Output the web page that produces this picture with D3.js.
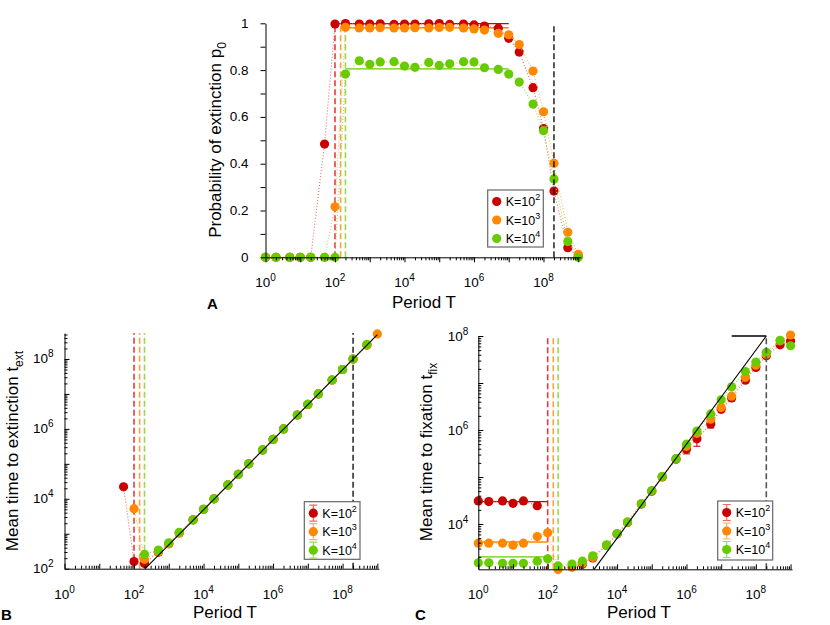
<!DOCTYPE html>
<html>
<head>
<meta charset="utf-8">
<script src="https://cdn.jsdelivr.net/npm/d3@7"></script>
<style>
	body { margin: 0; background: #fff; }
	svg { font-family: 'Liberation Sans', Arial, sans-serif; }
</style>
</head>
<body>
<svg id="chart" width="830" height="625"></svg>
<script>
	'use strict';

	// period T, shared by all three panels
	var periods = [1, 2, 5, 10, 20, 50, 100, 200, 500, 1e3, 2e3, 5e3, 1e4, 2e4, 5e4, 1e5, 2e5, 5e5,
		1e6, 2e6, 5e6, 1e7, 2e7, 5e7, 1e8, 2e8, 5e8, 1e9];
	var kExponents = ['2', '3', '4'];

	// A: probability of extinction p0
	var pRed = [0, 0, 0, 0, 0, 0.484, 0.997, 0.999, 0.997, 0.997, 0.998, 0.995, 0.997, 0.997, 0.998, 0.999,
		0.995, 0.997, 0.993, 0.988, 0.979, 0.936, 0.877, 0.725, 0.55, 0.283, 0.041, 0.004];
	var pOrange = [0, 0, 0, 0, 0, 0, 0.216, 0.983, 0.98, 0.98, 0.981, 0.98, 0.98, 0.981, 0.98, 0.982,
		0.983, 0.98, 0.976, 0.971, 0.957, 0.951, 0.909, 0.796, 0.622, 0.402, 0.107, 0.013];
	var pGreen = [0, 0, 0, 0, 0, 0, 0, 0.783, 0.84, 0.825, 0.835, 0.836, 0.817, 0.812, 0.833, 0.82,
		0.827, 0.836, 0.835, 0.81, 0.803, 0.783, 0.749, 0.655, 0.541, 0.335, 0.067, 0];
	var pPlateau = [0.999, 0.981, 0.805];
	var plateauEndA = 1e7;

	// critical periods (coloured dashed lines) and the black dashed one
	var critPeriods = [100, 145, 200];
	var bigPeriod = 2e8;

	// B: mean time to extinction
	var extRed = [null, null, null, null, null, 2.2e4, 160, 142, 294, 520, 1050, 2500, 5000, 1e4, 2.5e4,
		5e4, 1e5, 2.5e5, 5e5, 1e6, 2.5e6, 5e6, 1e7, 2.5e7, 5e7, 1e8, 2.5e8, null];
	var extOrange = [null, null, null, null, null, null, 5200, 185, 300, 520, 1050, 2500, 5000, 1e4, 2.5e4,
		5e4, 1e5, 2.5e5, 5e5, 1e6, 2.5e6, 5e6, 1e7, 2.5e7, 5e7, 1e8, 2.5e8, 5.2e8];
	var extGreen = [null, null, null, null, null, null, null, 258, 340, 550, 1100, 2460, 5000, 1e4, 2.5e4,
		5e4, 1e5, 2.5e5, 5e5, 1e6, 2.5e6, 5e6, 1e7, 2.5e7, 5e7, 1e8, 2.6e8, null];
	var extTheoryT = [209, 1e9];
	var extTheory = [100, 5e8];

	// C: mean time to fixation
	var fixRed = [3.1e4, 3.0e4, 3.1e4, 2.75e4, 3.1e4, 2.45e4, null, null, null, 1.4e3, 1.9e3, 3.5e3, 6.1e3,
		1.08e4, 2.65e4, 5.0e4, 1.0e5, 2.4e5, 3.9e5, 6.5e5, 1.35e6, 2.75e6, 4.8e6, 1.15e7, 2.14e7, 3.8e7, 6.5e7, 7.8e7];
	var fixOrange = [3.9e3, 3.9e3, 3.9e3, 3.55e3, 3.9e3, 5.4e3, 6.5e3, 1.07e3, 1.2e3, 1.44e3, 1.95e3, 3.5e3, 6.2e3,
		1.1e4, 2.7e4, 5.1e4, 1.02e5, 2.45e5, 4.5e5, 8.5e5, 1.7e6, 3.0e6, 5.25e6, 1.32e7, 2.4e7, 4.1e7, 7.9e7, 1.05e8];
	var fixGreen = [1.5e3, 1.5e3, 1.46e3, 1.46e3, 1.46e3, 1.62e3, 1.82e3, 1.28e3, 1.41e3, 1.62e3, 2.1e3, 3.6e3, 6.2e3,
		1.1e4, 2.7e4, 5.1e4, 1.02e5, 2.45e5, 5.0e5, 9.5e5, 2.2e6, 4.4e6, 8.3e6, 1.74e7, 2.8e7, 4.5e7, 8.1e7, 6.2e7];
	var fixRedErr = [0, 0, 0, 0, 0, 0, 0, 0, 0, 0, 0, 0, 0, 0, 0, 0, 0, 1.5e4, 8e4, 2e5, 2.5e5, 3e5, 5e5,
		1e6, 1.5e6, 2e6, 3e6, 3e6];
	var fixPlateau = [2.99e4, 4.14e3, 2.0e3];
	var fixTheoryT = [2.17e3, 2e8];
	var fixTheory = [1.087e3, 1e8];
	var fixCapT = [2e7, 2e8];
	var fixCap = [1e8, 1e8];

	var colors = ['#cc0000', '#ff8800', '#66cc00'];
	var dotColors = ['#ec6a6a', '#ffb060', '#9ed85a'];
	var dashColors = ['#e63c3c', '#ffa040', '#9ad84a'];

	var svg = d3.select('#chart');

	function isDecade(v) {
		var l = Math.log10(v);
		return Math.abs(l - Math.round(l)) < 1e-9;
	}

	function logTicks(domain) {
		var out = [];
		var lo = Math.floor(Math.log10(domain[0])), hi = Math.ceil(Math.log10(domain[1]));
		for (var k = lo; k <= hi; k++) {
			for (var m = 1; m < 10; m++) {
				var v = m * Math.pow(10, k);
				if (v >= domain[0] * 0.999 && v <= domain[1] * 1.001) {
					out.push(v);
				}
			}
		}
		return out;
	}

	function supText(t, base, sup, supSize) {
		t.append('tspan').text(base);
		t.append('tspan').attr('dy', -6).attr('font-size', supSize).text(sup);
	}

	function tenLabel(g, x, y, d, anchor) {
		var t = g.append('text')
			.attr('x', x).attr('y', y)
			.attr('text-anchor', anchor)
			.attr('font-size', 13.5)
			.attr('font-family', "'Liberation Sans', Arial, sans-serif")
			.attr('fill', '#000');
		supText(t, '10', String(Math.round(Math.log10(d))), 10);
	}

	function evenDecade(d) {
		return isDecade(d) && Math.round(Math.log10(d)) % 2 === 0;
	}

	function drawXAxis(x, y0, inward) {
		var ticks = logTicks(x.domain());
		var g = svg.append('g')
			.attr('transform', 'translate(0,' + y0 + ')')
			.call(d3.axisBottom(x).tickValues(ticks).tickSizeOuter(0).tickFormat(''));
		g.selectAll('.tick line').attr('y2', function (d) {
			var len = isDecade(d) ? 5 : 3;
			return inward ? -len : len;
		});
		ticks.filter(evenDecade).forEach(function (d) {
			tenLabel(g, x(d), 30, d, 'middle');
		});
	}

	function drawYLogAxis(y, x0, gap) {
		var ticks = logTicks(y.domain());
		var g = svg.append('g')
			.attr('transform', 'translate(' + x0 + ',0)')
			.call(d3.axisLeft(y).tickValues(ticks).tickSizeOuter(0).tickFormat(''));
		g.selectAll('.tick line').attr('x2', function (d) {
			return isDecade(d) ? 5 : 3;
		});
		ticks.filter(evenDecade).forEach(function (d) {
			tenLabel(g, -gap, y(d) + 4.5, d, 'end');
		});
	}

	function axisTitle(x, y, rotate, base, sub) {
		var t = svg.append('text')
			.attr('transform', 'translate(' + x + ',' + y + ')' + (rotate ? ' rotate(-90)' : ''))
			.attr('text-anchor', 'middle')
			.attr('font-size', 17);
		t.append('tspan').text(base);
		if (sub) {
			t.append('tspan').attr('dy', 5).attr('font-size', 12).text(sub);
		}
	}

	function panelLetter(x, y, s) {
		svg.append('text').attr('x', x).attr('y', y)
			.attr('font-size', 15).attr('font-weight', 'bold').text(s);
	}

	function vline(x, y, t, color, dash, width) {
		var d = y.domain();
		svg.append('line')
			.attr('x1', x(t)).attr('x2', x(t))
			.attr('y1', y(d[0])).attr('y2', y(d[1]))
			.attr('stroke', color)
			.attr('stroke-width', width)
			.attr('stroke-dasharray', dash);
	}

	function segment(x, y, ts, vs, color, width) {
		var line = d3.line()
			.x(function (d, i) { return x(ts[i]); })
			.y(function (d) { return y(d); });
		svg.append('path')
			.datum(vs)
			.attr('d', line)
			.attr('fill', 'none')
			.attr('stroke', color)
			.attr('stroke-width', width);
	}

	function drawSeries(x, y, values, i, errs) {
		var pts = periods.map(function (t, j) {
			return {t: t, v: values[j], e: errs ? errs[j] : 0};
		});
		var line = d3.line()
			.defined(function (d) { return d.v !== null; })
			.x(function (d) { return x(d.t); })
			.y(function (d) { return y(d.v); });
		svg.append('path')
			.datum(pts)
			.attr('d', line)
			.attr('fill', 'none')
			.attr('stroke', dotColors[i])
			.attr('stroke-width', 1.1)
			.attr('stroke-dasharray', '1,2');
		var ok = pts.filter(function (d) { return d.v !== null; });
		var bars = ok.filter(function (d) { return d.e > 0; });
		bars.forEach(function (d) {
			var cx = x(d.t), y1 = y(d.v - d.e), y2 = y(d.v + d.e);
			svg.append('path')
				.attr('d', 'M' + cx + ',' + y1 + 'V' + y2 + 'M' + (cx - 3.5) + ',' + y1 + 'H' + (cx + 3.5) +
					'M' + (cx - 3.5) + ',' + y2 + 'H' + (cx + 3.5))
				.attr('stroke', colors[i]).attr('stroke-width', 1).attr('fill', 'none');
		});
		svg.append('g').selectAll('circle')
			.data(ok)
			.enter().append('circle')
			.attr('cx', function (d) { return x(d.t); })
			.attr('cy', function (d) { return y(d.v); })
			.attr('r', 4.6)
			.attr('fill', colors[i]);
	}

	function drawLegend(x0, y0, w, h, withErr) {
		var g = svg.append('g').attr('transform', 'translate(' + x0 + ',' + y0 + ')');
		g.append('rect')
			.attr('width', w).attr('height', h)
			.attr('fill', '#fff').attr('stroke', '#666').attr('stroke-width', 1.2);
		kExponents.forEach(function (k, i) {
			var cy = 11.5 + i * 18.5;
			if (withErr) {
				g.append('path')
					.attr('d', 'M9,' + (cy - 8) + 'V' + (cy + 8) + 'M5,' + (cy - 8) + 'H13M5,' + (cy + 8) + 'H13')
					.attr('stroke', dotColors[i]).attr('stroke-width', 1.2).attr('fill', 'none');
			}
			g.append('circle').attr('cx', 9).attr('cy', cy).attr('r', 4.6).attr('fill', colors[i]);
			var t = g.append('text').attr('x', 18).attr('y', cy + 4.5).attr('font-size', 12.5);
			supText(t, 'K=10', k, 9);
		});
	}

	var pSeries = [pRed, pOrange, pGreen];
	var extSeries = [extRed, extOrange, extGreen];
	var fixSeries = [fixRed, fixOrange, fixGreen];
	var fixErrs = [fixRedErr, null, null];

	// ---------- A ----------
	var xA = d3.scaleLog().domain([1, 1.2e9]).range([265.5, 581]);
	var yA = d3.scaleLinear().domain([0, 1]).range([257.3, 23.3]);

	critPeriods.forEach(function (t, i) {
		vline(xA, yA, t, dashColors[i], '6,3', 1.6);
		segment(xA, yA, [t, plateauEndA], [pPlateau[i], pPlateau[i]], colors[i], 1.3);
	});
	pSeries.forEach(function (s, i) { drawSeries(xA, yA, s, i); });
	vline(xA, yA, bigPeriod, '#000', '6,3', 1.3);

	drawXAxis(xA, 257.3, false);
	(function () {
		var ticks = d3.range(0, 11).map(function (d) { return d / 10; });
		var g = svg.append('g')
			.attr('transform', 'translate(265.5,0)')
			.call(d3.axisLeft(yA).tickValues(ticks).tickSizeOuter(0).tickSizeInner(5).tickFormat(''));
		ticks.filter(function (d, i) { return i % 2 === 0; }).forEach(function (d) {
			g.append('text')
				.attr('x', -17).attr('y', yA(d) + 4.5)
				.attr('text-anchor', 'end')
				.attr('font-size', 13.5)
				.attr('font-family', "'Liberation Sans', Arial, sans-serif")
				.attr('fill', '#000')
				.text(String(+d.toFixed(1)));
		});
	})();
	drawLegend(487.7, 190, 55.6, 57, false);
	axisTitle(220.5, 140, true, 'Probability of extinction p', '0');
	axisTitle(424, 308, false, 'Period T');
	panelLetter(207, 309, 'A');

	// ---------- B ----------
	var xB = d3.scaleLog().domain([1, 1.1e9]).range([64.5, 378.8]);
	var yB = d3.scaleLog().domain([100, 5.5e8]).range([568.7, 333.1]);

	critPeriods.forEach(function (t, i) {
		vline(xB, yB, t, dashColors[i], '6,3', 1.6);
	});
	extSeries.forEach(function (s, i) { drawSeries(xB, yB, s, i); });
	segment(xB, yB, extTheoryT, extTheory, '#000', 1.1);
	vline(xB, yB, bigPeriod, '#000', '6,3', 1.3);

	drawXAxis(xB, 568.7, true);
	drawYLogAxis(yB, 64.5, 11);
	drawLegend(304.3, 501.7, 55.7, 57.6, true);
	axisTitle(18, 451, true, 'Mean time to extinction t', 'ext');
	axisTitle(225, 618, false, 'Period T');
	panelLetter(1, 620, 'B');

	// ---------- C ----------
	var xC = d3.scaleLog().domain([1, 1.1e9]).range([478.3, 792]);
	var yC = d3.scaleLog().domain([1.087e3, 1e8]).range([569.3, 336]);

	critPeriods.forEach(function (t, i) {
		vline(xC, yC, t, dashColors[i], '6,3', 1.6);
		segment(xC, yC, [1, critPeriods[0]], [fixPlateau[i], fixPlateau[i]], colors[i], 1.3);
	});
	fixSeries.forEach(function (s, i) { drawSeries(xC, yC, s, i, fixErrs[i]); });
	segment(xC, yC, fixTheoryT, fixTheory, '#000', 1.1);
	segment(xC, yC, fixCapT, fixCap, '#000', 1.3);
	vline(xC, yC, bigPeriod, '#555', '6,3', 1.6);

	drawXAxis(xC, 569.3, true);
	drawYLogAxis(yC, 478.3, 10);
	drawLegend(717.7, 501, 55, 59, true);
	axisTitle(432, 452, true, 'Mean time to fixation t', 'fix');
	axisTitle(639, 618, false, 'Period T');
	panelLetter(415, 620, 'C');
</script>
</body>
</html>
